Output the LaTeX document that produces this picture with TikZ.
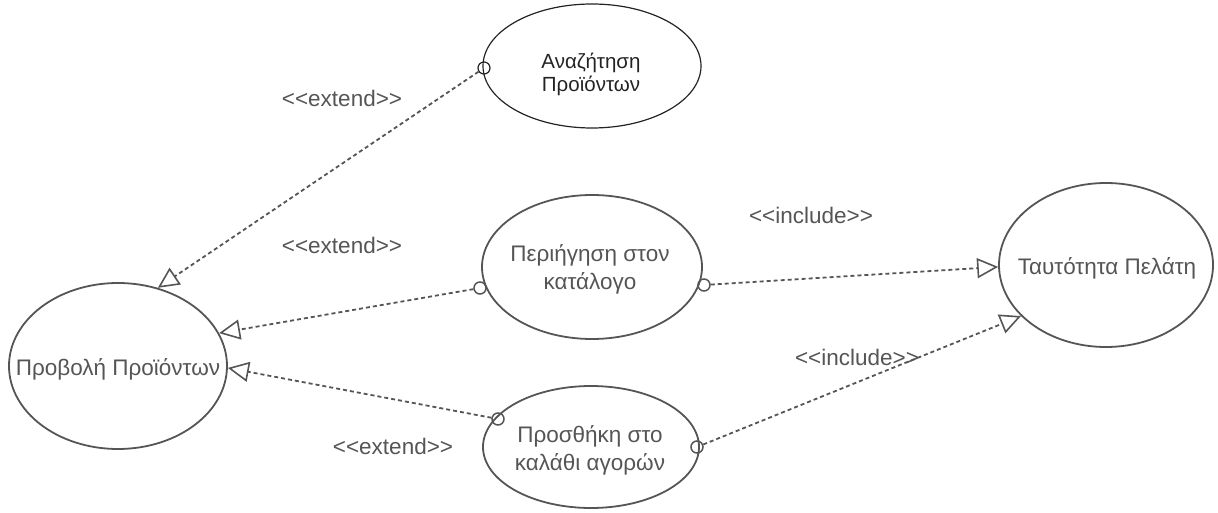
\documentclass[tikz,border=0pt]{standalone}
\usepackage{fontspec}
\setmainfont{Liberation Sans}
\usetikzlibrary{arrows.meta,shapes.geometric}
\definecolor{edgecol}{RGB}{85,85,85}
\definecolor{txtcol}{RGB}{85,85,85}
\definecolor{darkcol}{RGB}{35,35,35}
\begin{document}
\begin{tikzpicture}[x=1pt,y=-1pt,
  uc/.style={ellipse, draw=edgecol, line width=1.8pt, inner sep=0pt},
  uctext/.style={text=txtcol, align=center, inner sep=0pt, font=\fontsize{22.5}{28}\selectfont},
  lbl/.style={text=txtcol, inner sep=0pt, font=\fontsize{22.5}{26}\selectfont},
  port/.style={circle, draw=edgecol, line width=1.5pt, minimum size=12pt, inner sep=0pt},
  dep/.style={draw=edgecol, line width=1.8pt, dash pattern=on 4pt off 3pt,
    -{Triangle[open, length=21pt, width=20pt, line width=1.6pt]}}
]
\useasboundingbox (0,0) rectangle (1218,513);

% use cases
\node[uc, draw=darkcol, line width=1.2pt, minimum width=218pt, minimum height=124pt] (an) at (592,66) {};
\node[uctext, text=darkcol, font=\fontsize{20.5}{23}\selectfont] (ant) at (591,74) {Αναζήτηση\\Προϊόντων};

\node[uc, minimum width=220pt, minimum height=144pt] (pk) at (592,267) {};
\node[uctext] (pkt) at (590,269) {Περιήγηση στον\\κατάλογο};

\node[uc, minimum width=216pt, minimum height=122pt] (pr) at (591,447) {};
\node[uctext] (prt) at (590,450) {Προσθήκη στο\\καλάθι αγορών};

\node[uc, minimum width=218pt, minimum height=166pt] (pp) at (118,366) {};
\node[uctext] (ppt) at (118,369) {Προβολή Προϊόντων};

\node[uc, minimum width=214pt, minimum height=164pt] (tp) at (1106,265) {};
\node[uctext] (tpt) at (1107,268) {Ταυτότητα Πελάτη};

% ports
\node[port, draw=darkcol, line width=1.2pt] (c1) at (484,68) {};
\node[port] (c2) at (480,288) {};
\node[port] (c3) at (704,285) {};
\node[port] (c4) at (498,419) {};
\node[port] (c5) at (697,447) {};

% connectors
\draw[dep] (c1) -- (pp.63);
\draw[dep] (c2) -- (pp.18);
\draw[dep] (c4) -- (pp.-1);
\draw[dep] (c3) -- (tp.181);
\draw[dep] (c5) -- (tp.211);

% labels
\node[lbl] (l1) at (342,98) {<\kern0pt<extend>\kern0pt>};
\node[lbl] (l2) at (342,245) {<\kern0pt<extend>\kern0pt>};
\node[lbl] (l3) at (393,446) {<\kern0pt<extend>\kern0pt>};
\node[lbl] (l4) at (811,215) {<\kern0pt<include>\kern0pt>};
\node[lbl] (l5) at (857,357) {<\kern0pt<include>\kern0pt>};
\end{tikzpicture}
\end{document}
